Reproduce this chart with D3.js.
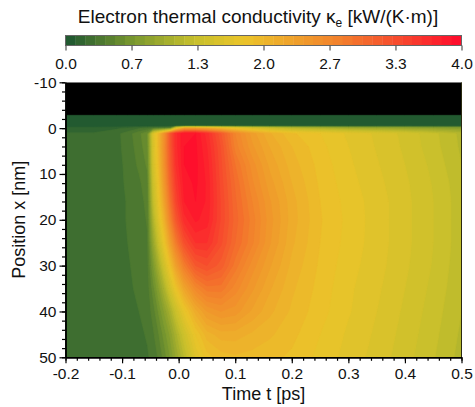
<!DOCTYPE html>
<html>
<head>
<meta charset="utf-8">
<script src="https://cdn.jsdelivr.net/npm/d3@7"></script>
<style>
  body { margin: 0; background: #fff; }
  svg text { font-family: "Liberation Sans", Arial, Helvetica, sans-serif; fill: #111; }
</style>
</head>
<body>
<svg id="chart" width="475" height="407"></svg>
<script>
// Sample times (ps) — grid columns
const times = [-0.2, -0.15, -0.11, -0.09, -0.07, -0.055, -0.045, -0.035, -0.025, -0.015, -0.005,
               0.01, 0.03, 0.05, 0.075, 0.1, 0.13, 0.16, 0.2, 0.25, 0.3, 0.35, 0.4, 0.45, 0.5];

// Sample depths (nm) — grid rows; no data above the first row
const positions = [-2.8, -0.5, 0, 1.2, 4, 8, 12, 16, 20, 25, 30, 35, 40, 45, 50];

// Electron thermal conductivity κe, kW/(K·m): one row per depth, one value per time
const kappaAtMinus2_8 = [0.03,0.03,0.03,0.03,0.03,0.03,0.03,0.03,0.03,0.03,0.03,0.03,0.03,0.03,0.03,0.03,0.03,0.03,0.03,0.03,0.03,0.03,0.03,0.03,0.03];
const kappaAtMinus0_5 = [0.03,0.03,0.03,0.03,0.03,0.03,0.03,0.03,0.03,0.03,0.03,0.03,0.03,0.03,0.03,0.03,0.03,0.03,0.03,0.03,0.03,0.03,0.03,0.03,0.03];
const kappaAt0  = [0.15,0.15,0.18,0.22,0.28,0.32,0.35,0.38,0.40,0.45,1.50,2.20,2.20,2.10,1.90,1.70,1.50,1.35,1.20,1.10,1.00,0.95,0.90,0.85,0.80];
const kappaAt1  = [0.21,0.21,0.27,0.35,0.47,0.60,1.55,2.00,2.55,3.20,3.65,3.90,3.90,3.65,3.20,2.70,2.35,2.12,1.92,1.80,1.68,1.58,1.47,1.33,1.17];
const kappaAt4  = [0.21,0.21,0.27,0.34,0.45,0.57,1.50,2.00,2.60,3.20,3.65,3.90,3.92,3.70,3.28,2.75,2.42,2.20,2.00,1.83,1.70,1.59,1.48,1.34,1.18];
const kappaAt8  = [0.21,0.21,0.26,0.33,0.42,0.52,1.45,1.95,2.55,3.15,3.60,3.90,3.93,3.75,3.32,2.90,2.55,2.28,2.05,1.86,1.72,1.61,1.50,1.37,1.20];
const kappaAt12 = [0.21,0.21,0.26,0.32,0.38,0.46,1.35,1.85,2.45,3.05,3.50,3.85,3.92,3.78,3.35,2.98,2.62,2.35,2.10,1.88,1.74,1.63,1.52,1.39,1.23];
const kappaAt16 = [0.21,0.21,0.25,0.31,0.36,0.43,1.25,1.75,2.30,2.90,3.40,3.80,3.90,3.78,3.38,3.02,2.70,2.42,2.14,1.90,1.76,1.65,1.53,1.40,1.24];
const kappaAt20 = [0.21,0.21,0.25,0.31,0.35,0.41,1.10,1.60,2.10,2.70,3.20,3.65,3.82,3.75,3.38,3.05,2.75,2.45,2.15,1.91,1.77,1.65,1.53,1.40,1.24];
const kappaAt25 = [0.21,0.21,0.25,0.30,0.34,0.39,0.90,1.35,1.80,2.30,2.80,3.30,3.60,3.60,3.32,3.00,2.72,2.42,2.12,1.90,1.76,1.65,1.53,1.40,1.24];
const kappaAt30 = [0.21,0.21,0.24,0.29,0.33,0.37,0.70,1.05,1.45,1.85,2.30,2.80,3.20,3.30,3.15,2.85,2.55,2.32,2.07,1.88,1.74,1.64,1.52,1.39,1.23];
const kappaAt35 = [0.21,0.21,0.24,0.28,0.32,0.35,0.55,0.80,1.10,1.45,1.80,2.25,2.65,2.85,2.85,2.65,2.42,2.22,2.02,1.86,1.72,1.62,1.50,1.37,1.22];
const kappaAt40 = [0.21,0.21,0.23,0.27,0.30,0.33,0.45,0.62,0.82,1.05,1.35,1.75,2.15,2.40,2.50,2.45,2.28,2.13,1.98,1.84,1.71,1.60,1.48,1.35,1.20];
const kappaAt45 = [0.21,0.21,0.22,0.25,0.28,0.31,0.38,0.50,0.65,0.82,1.05,1.40,1.80,2.05,2.15,2.15,2.08,2.02,1.93,1.80,1.68,1.58,1.46,1.33,1.18];
const kappaAt50 = [0.21,0.21,0.21,0.23,0.26,0.29,0.33,0.42,0.55,0.70,0.90,1.20,1.60,1.85,1.95,1.98,1.96,1.93,1.88,1.77,1.66,1.56,1.44,1.31,1.16];

const kappaRows = [kappaAtMinus2_8, kappaAtMinus0_5, kappaAt0, kappaAt1, kappaAt4, kappaAt8,
                   kappaAt12, kappaAt16, kappaAt20, kappaAt25, kappaAt30, kappaAt35,
                   kappaAt40, kappaAt45, kappaAt50];

// Axis and colour-bar ticks
const timeTicks = [-0.2, -0.1, 0.0, 0.1, 0.2, 0.3, 0.4, 0.5];
const positionTicks = [-10, 0, 10, 20, 30, 40, 50];
const colorbarTicks = [0, 0.667, 1.333, 2.0, 2.667, 3.333, 4.0];

// Colour map: dark green → yellow → red
const colorStops = [0, 0.7, 1.3, 1.8, 2.7, 3.3, 4.0];
const colorHex = ["#1b5530", "#7c9a2f", "#c6bf2c", "#ebc42a", "#f2862c", "#f6502d", "#ff0a2c"];

// ---------------------------------------------------------------------------
const svg = d3.select("#chart");
const margin = { left: 65.5, right: 461.5, top: 82.3, bottom: 357.3 };
const fmt = d3.formatLocale({ decimal: ".", thousands: ",", grouping: [3], currency: ["", ""], minus: "-" });

const x = d3.scaleLinear().domain([-0.2, 0.5]).range([margin.left, margin.right]);
const y = d3.scaleLinear().domain([-10, 50]).range([margin.top, margin.bottom]);
const color = d3.scaleLinear().domain(colorStops).range(colorHex).clamp(true);

const step = 0.1;
const levels = d3.range(0, 4 - 1e-9, step);

// Plot area: black where there is no material
svg.append("clipPath").attr("id", "plotClip")
  .append("rect")
  .attr("x", margin.left).attr("y", margin.top)
  .attr("width", margin.right - margin.left).attr("height", margin.bottom - margin.top);

const plot = svg.append("g").attr("clip-path", "url(#plotClip)");
plot.append("rect")
  .attr("x", margin.left).attr("y", margin.top)
  .attr("width", margin.right - margin.left).attr("height", margin.bottom - margin.top)
  .attr("fill", "#000");

// Filled contours on the sample grid, mapped to data coordinates
const nx = times.length, ny = positions.length;
const values = kappaRows.flat();
const contours = d3.contours().size([nx, ny]).thresholds(levels)(values);

const colIndex = d3.scaleLinear().domain(d3.range(nx)).range(times);
const rowIndex = d3.scaleLinear().domain(d3.range(ny)).range(positions);
const clampC = (c, n) => Math.max(0, Math.min(n - 1, c - 0.5));

const gridToScreen = d3.geoTransform({
  point(cx, cy) {
    this.stream.point(x(colIndex(clampC(cx, nx))), y(rowIndex(clampC(cy, ny))));
  }
});
const contourPath = d3.geoPath(gridToScreen);

plot.append("g").selectAll("path")
  .data(contours)
  .join("path")
  .attr("d", contourPath)
  .attr("fill", d => color(d.value + step / 2))
  .attr("stroke", d => color(d.value + step / 2))
  .attr("stroke-width", 0.6)
  .attr("stroke-linejoin", "round");

// Right frame line
svg.append("line")
  .attr("x1", margin.right).attr("x2", margin.right)
  .attr("y1", margin.top).attr("y2", margin.bottom)
  .attr("stroke", "#2a2a10").attr("stroke-width", 1);

// Axes
function styleAxis(g) {
  g.select(".domain").attr("stroke", "#000").attr("stroke-width", 1.4);
  g.selectAll(".tick line").attr("stroke", "#000").attr("stroke-width", 1.2);
  g.selectAll("text").attr("font-size", 15.5).attr("fill", "#111")
    .attr("font-family", "'Liberation Sans', Arial, sans-serif");
}

const xMinor = d3.range(-0.2, 0.5001, 0.02);
const yMinor = d3.range(-10, 50.001, 2);

svg.append("g")
  .attr("transform", `translate(0,${margin.bottom})`)
  .call(d3.axisBottom(x).tickValues(xMinor).tickSize(3.5).tickSizeOuter(0).tickFormat(""))
  .call(styleAxis);
svg.append("g")
  .attr("transform", `translate(${margin.left},0)`)
  .call(d3.axisLeft(y).tickValues(yMinor).tickSize(3.5).tickSizeOuter(0).tickFormat(""))
  .call(styleAxis);

svg.append("g")
  .attr("transform", `translate(0,${margin.bottom})`)
  .call(d3.axisBottom(x).tickValues(timeTicks).tickSize(6).tickSizeOuter(0).tickPadding(5).tickFormat(fmt.format(".1f")))
  .call(styleAxis);
svg.append("g")
  .attr("transform", `translate(${margin.left},0)`)
  .call(d3.axisLeft(y).tickValues(positionTicks).tickSize(6).tickSizeOuter(0).tickPadding(3).tickFormat(fmt.format("d")))
  .call(styleAxis);

// Axis titles
svg.append("text")
  .attr("x", (margin.left + margin.right) / 2).attr("y", 400)
  .attr("text-anchor", "middle").attr("font-size", 18)
  .text("Time t [ps]");

svg.append("text")
  .attr("transform", `translate(25,${(margin.top + margin.bottom) / 2}) rotate(-90)`)
  .attr("text-anchor", "middle").attr("font-size", 18)
  .text("Position x [nm]");

// Colour bar
const cb = d3.scaleLinear().domain([0, 4]).range([margin.left, margin.right]);
const cbTop = 35.5, cbHeight = 10;
const cbG = svg.append("g");
cbG.selectAll("rect.step")
  .data(levels)
  .join("rect")
  .attr("class", "step")
  .attr("x", d => cb(d))
  .attr("width", d => cb(d + step) - cb(d) + 0.4)
  .attr("y", cbTop).attr("height", cbHeight)
  .attr("fill", d => color(d + step / 2));
cbG.append("rect")
  .attr("x", cb(0)).attr("y", cbTop)
  .attr("width", cb(4) - cb(0)).attr("height", cbHeight)
  .attr("fill", "none").attr("stroke", "#666").attr("stroke-width", 1);

const cbAxis = svg.append("g")
  .attr("transform", `translate(0,${cbTop + cbHeight})`)
  .call(d3.axisBottom(cb).tickValues(colorbarTicks).tickSize(5).tickSizeOuter(0).tickPadding(7).tickFormat(fmt.format(".1f")));
cbAxis.select(".domain").remove();
cbAxis.selectAll(".tick line").attr("stroke", "#555").attr("stroke-width", 1.2);
cbAxis.selectAll("text").attr("font-size", 15.5).attr("fill", "#111")
  .attr("font-family", "'Liberation Sans', Arial, sans-serif");

// Colour bar title
const title = svg.append("text")
  .attr("x", 258).attr("y", 23)
  .attr("text-anchor", "middle").attr("font-size", 19);
title.append("tspan").text("Electron thermal conductivity κ");
title.append("tspan").attr("font-size", 12).attr("dy", 4).text("e");
title.append("tspan").attr("dy", -4).text(" [kW/(K·m)]");
</script>
</body>
</html>
